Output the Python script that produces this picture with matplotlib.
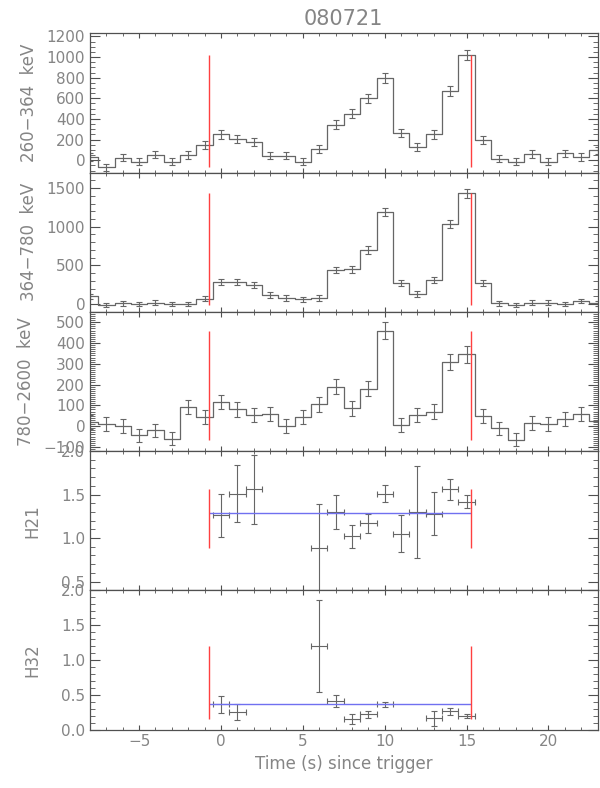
import numpy as np
import matplotlib
matplotlib.use('Agg')
import matplotlib.pyplot as plt
from matplotlib.ticker import MultipleLocator, AutoMinorLocator, FormatStrFormatter

# light curves of GRB 080721 in three energy bands, 1 s bins
time_s = [-8, -7, -6, -5, -4, -3, -2, -1, 0, 1, 2, 3, 4, 5, 6, 7,
          8, 9, 10, 11, 12, 13, 14, 15, 16, 17, 18, 19, 20, 21, 22, 23]
band1 = [30, -70, 25, -15, 55, -15, 50, 150, 250, 210, 175, 45, 45, -15, 110, 345,
         450, 600, 795, 265, 125, 250, 670, 1020, 195, 15, -15, 60, -15, 65, 30, 95]
band1_err = [35, 33, 35, 34, 36, 34, 36, 38, 40, 39, 38, 35, 35, 34, 37, 41,
             42, 44, 47, 40, 37, 40, 45, 48, 39, 35, 34, 36, 34, 36, 35, 37]
band2 = [100, -10, 10, 0, 20, 0, 0, 70, 290, 290, 250, 120, 80, 60, 80, 440,
         450, 700, 1190, 270, 130, 310, 1030, 1430, 270, 10, -10, 20, 20, 0, 40, 10]
band2_err = [33, 30, 31, 31, 32, 31, 31, 34, 40, 40, 39, 35, 34, 33, 34, 42,
             42, 47, 56, 40, 35, 40, 52, 58, 40, 31, 30, 31, 31, 31, 32, 31]
band3 = [20, 10, 0, -45, -20, -60, 90, 45, 115, 80, 55, 60, 0, 45, 105, 190,
         85, 180, 460, 5, 55, 70, 310, 345, 50, -10, -65, 15, 10, 35, 60, 25]
band3_err = [33, 32, 32, 30, 31, 30, 34, 33, 35, 34, 33, 33, 32, 33, 35, 37,
             34, 37, 42, 32, 33, 34, 38, 39, 33, 32, 30, 32, 32, 33, 34, 33]

# hardness ratios
h21_time = [0, 1, 2, 6, 7, 8, 9, 10, 11, 12, 13, 14, 15]
h21 = [1.26, 1.51, 1.56, 0.89, 1.30, 1.02, 1.17, 1.51, 1.05, 1.30, 1.28, 1.56, 1.42]
h21_err = [0.25, 0.33, 0.40, 0.50, 0.19, 0.13, 0.11, 0.10, 0.21, 0.53, 0.25, 0.12, 0.08]
h32_time = [0, 1, 6, 7, 8, 9, 10, 13, 14, 15]
h32 = [0.36, 0.25, 1.20, 0.41, 0.15, 0.22, 0.365, 0.16, 0.26, 0.20]
h32_err = [0.12, 0.12, 0.66, 0.09, 0.07, 0.05, 0.035, 0.11, 0.045, 0.03]
h21_mean = 1.29
h32_mean = 0.365

t_start, t_stop = -0.74, 15.26

band_labels = ['260\u2212364  keV', '364\u2212780  keV', '780\u22122600  keV']
band_ylims = [(-120, 1230), (-100, 1700), (-120, 550)]
band_major = [200, 500, 100]
band_minor = [4, 5, 10]

grey = '#666666'
txt = '#858585'
red = '#ff4040'
blue = '#7070f0'

plt.rcParams['font.family'] = ['DejaVu Sans']
plt.rcParams['axes.edgecolor'] = '#505050'
plt.rcParams['text.color'] = txt

fig, axes = plt.subplots(5, 1, sharex=True, figsize=(6, 7.88), dpi=100)
fig.subplots_adjust(left=0.15, right=0.996, top=0.9577, bottom=0.0742, hspace=0)

bands = [(band1, band1_err), (band2, band2_err), (band3, band3_err)]
for i, (vals, errs) in enumerate(bands):
    ax = axes[i]
    ax.step(time_s, vals, where='mid', color=grey, lw=0.9)
    ax.errorbar(time_s, vals, yerr=errs, fmt='none', ecolor=grey, elinewidth=0.8,
                capsize=2, capthick=0.8)
    # red lines mark the burst interval, from the lowest to the highest bin
    ax.vlines([t_start, t_stop], min(vals), max(vals), colors=red, linewidths=1.0)
    ax.set_ylim(*band_ylims[i])
    ax.yaxis.set_major_locator(MultipleLocator(band_major[i]))
    ax.yaxis.set_minor_locator(AutoMinorLocator(band_minor[i]))
    ax.set_ylabel(band_labels[i], fontsize=12, color=txt, labelpad=6)

hr = [(h21_time, h21, h21_err, h21_mean, 'H21', (0.4, 2.0)),
      (h32_time, h32, h32_err, h32_mean, 'H32', (0.0, 2.0))]
for j, (tt, vals, errs, mean, lab, lim) in enumerate(hr):
    ax = axes[3 + j]
    ax.errorbar(tt, vals, yerr=errs, xerr=0.5, fmt='none', ecolor=grey,
                elinewidth=0.8, capsize=2, capthick=0.8)
    ax.hlines(mean, t_start, t_stop, colors=blue, linewidths=1.0)
    ax.vlines([t_start, t_stop], min(vals), max(vals), colors=red, linewidths=1.0)
    ax.set_ylim(*lim)
    ax.yaxis.set_major_locator(MultipleLocator(0.5))
    ax.yaxis.set_minor_locator(AutoMinorLocator(5))
    ax.yaxis.set_major_formatter(FormatStrFormatter('%.1f'))
    ax.set_ylabel(lab, fontsize=12, color=txt, labelpad=14)

for ax in axes:
    ax.set_xlim(-8, 23)
    ax.xaxis.set_major_locator(MultipleLocator(5))
    ax.xaxis.set_minor_locator(MultipleLocator(1))
    ax.tick_params(axis='both', which='both', direction='in', top=True, right=True,
                   colors='#505050', labelcolor=txt, labelsize=11)
    ax.tick_params(axis='y', which='major', length=7)
    ax.tick_params(axis='y', which='minor', length=3.5)
    ax.tick_params(axis='x', which='major', length=3.5)
    ax.tick_params(axis='x', which='minor', length=2)
    for s in ax.spines.values():
        s.set_linewidth(0.9)

axes[0].set_title('080721', fontsize=15, color=txt, pad=6)
axes[-1].set_xlabel('Time (s) since trigger', fontsize=12, color=txt)

plt.savefig('out.png', dpi=100)
